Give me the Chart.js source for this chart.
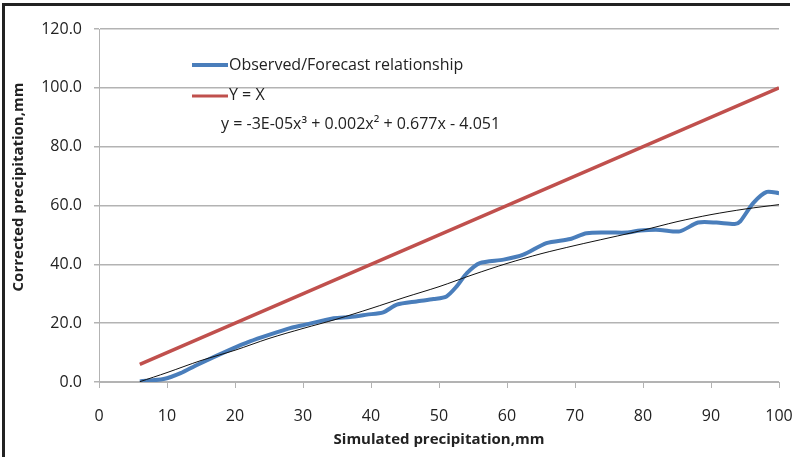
<!DOCTYPE html>
<html>
<head>
<meta charset="utf-8">
<script src="https://cdn.jsdelivr.net/npm/chart.js@4"></script>
<style>
html,body{margin:0;padding:0;background:#fff;}
#wrap{position:relative;width:798px;height:457px;}
</style>
</head>
<body>
<div id="wrap"><canvas id="chart" width="798" height="457"></canvas></div>
<script>
// observed/forecast relationship (blue)
const obsX=[6,9.5,12,14.4,19.3,22.2,25.1,28.1,30,34.5,36.9,39.4,41.8,43.8,46.7,49.2,51.1,52.6,54.1,56,59.5,62.4,65.8,69.3,71.7,75.1,77.6,79.6,82.5,85.4,88.1,90.8,93.5,94.3,96.2,98.2,100];
const obsY=[0.2,1.0,3.0,5.8,11.0,13.8,16.1,18.3,19.3,21.7,22.1,22.9,23.7,26.3,27.4,28.2,29.1,32.5,37.0,40.4,41.6,43.3,47.2,48.6,50.6,50.8,50.8,51.5,51.7,51.2,54.2,54.2,53.7,54.6,60.8,64.6,64.2];
// Y = X (red)
const idX=[6,100];
const idY=[6,100];
// polynomial trendline (black)
const trendX=[6,10,15,20,25,30,35,40,45,50,55,60,65,70,75,80,85,90,95,100];
const trendY=[0.1,3.2,7.3,10.8,14.8,18.2,21.4,25.0,28.8,32.4,36.5,40.3,43.6,46.4,49.0,51.6,54.5,56.9,58.8,60.3];

const legendLabels=["Observed/Forecast relationship","Y = X"];
const trendLabel="y = -3E-05x\u00b3 + 0.002x\u00b2 + 0.677x - 4.051";
const xTitle="Simulated precipitation,mm";
const yTitle="Corrected precipitation,mm";

const FONT="'Open Sans', sans-serif";
const BLUE="#4a7ebb", RED="#c0504d";

function pts(xs,ys){return xs.map((x,i)=>({x:x,y:ys[i]}));}

const deco={
id:"deco",
afterDraw(c){
const g=c.ctx;
g.save();
// frame
g.fillStyle="#222";
g.fillRect(2,3,788,3);
g.fillRect(2,3,3,460);
// legend
g.lineCap="butt";
g.strokeStyle=BLUE;g.lineWidth=4;
g.beginPath();g.moveTo(192,65);g.lineTo(228,65);g.stroke();
g.strokeStyle=RED;g.lineWidth=3;
g.beginPath();g.moveTo(192,96);g.lineTo(228,96);g.stroke();
g.fillStyle="#222";
g.font="16px "+FONT;
g.textBaseline="middle";g.textAlign="left";
g.fillText(legendLabels[0],229,65);
g.fillText(legendLabels[1],229,95);
g.fillText(trendLabel,221,124);
// axis titles
g.font="bold 15px "+FONT;
g.textAlign="center";
g.fillText(xTitle,439,440);
g.translate(19,187);g.rotate(-Math.PI/2);
g.fillText(yTitle,0,0);
g.restore();
}
};

new Chart(document.getElementById("chart"),{
type:"scatter",
data:{datasets:[
{label:"trend",data:pts(trendX,trendY),showLine:true,borderColor:"#111",borderWidth:1,pointRadius:0,tension:0.3,order:1},
{label:legendLabels[1],data:pts(idX,idY),showLine:true,borderColor:RED,borderWidth:3.5,pointRadius:0,order:3},
{label:legendLabels[0],data:pts(obsX,obsY),showLine:true,borderColor:BLUE,borderWidth:4,pointRadius:0,tension:0.25,order:2}
]},
plugins:[deco],
options:{
responsive:false,animation:false,
layout:{padding:{top:29,right:19,left:0,bottom:0}},
plugins:{legend:{display:false},tooltip:{enabled:false}},
scales:{
x:{type:"linear",min:0,max:100,
afterFit(s){s.height=75;s.paddingLeft=0;s.paddingRight=0;},
ticks:{stepSize:10,color:"#222",font:{family:FONT,size:16},padding:19,maxRotation:0},
grid:{drawOnChartArea:false,drawTicks:true,tickLength:6,color:"#b3b3b3"},
border:{color:"#b3b3b3",width:1}},
y:{min:0,max:120,
afterFit(s){s.width=99;},
ticks:{stepSize:20,color:"#222",font:{family:FONT,size:16},padding:12,callback:v=>v.toFixed(1)},
grid:{color:"#b3b3b3",lineWidth:1.5,tickLength:5},
border:{color:"#b3b3b3",width:1}}
}
}
});
</script>
</body>
</html>
